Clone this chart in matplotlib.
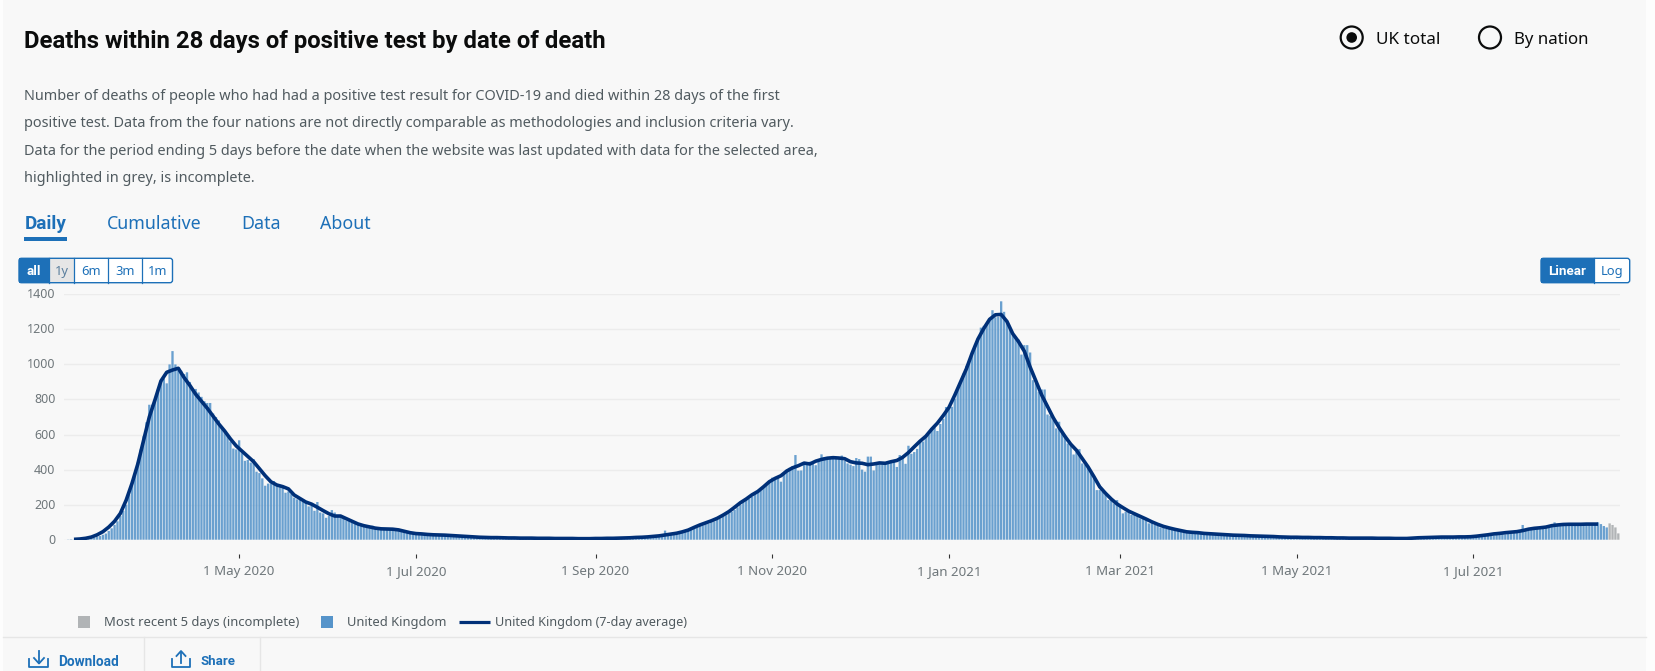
import matplotlib
matplotlib.use("Agg")
import matplotlib.pyplot as plt
from matplotlib.patches import Rectangle, Circle, FancyBboxPatch
from matplotlib.transforms import ScaledTranslation
import pandas as pd

plt.rcParams['font.family'] = ['Noto Sans', 'DejaVu Sans']
BOLD_FONT = ['Roboto', 'DejaVu Sans']

# Daily deaths
mar_2020 = [0, 0, 1, 2, 1, 2, 2, 3, 3, 5,
            8, 12, 18, 21, 28, 35, 50, 65, 85, 105,
            135, 165, 200, 255, 310, 370, 440, 515, 590, 670, 770]
apr_2020 = [770, 800, 860, 907, 920, 892, 1000, 1076, 1000, 965,
            964, 945, 955, 900, 860, 860, 840, 815, 790, 780,
            780, 720, 700, 680, 640, 620, 600, 560, 520, 515]
may_2020 = [567, 494, 450, 455, 440, 460, 388, 380, 350, 308,
            320, 320, 335, 305, 300, 305, 268, 275, 260, 240,
            230, 230, 215, 210, 190, 195, 165, 215, 155, 150, 125]
jun_2020 = [135, 169, 155, 130, 140, 125, 110, 115, 110, 100,
            95, 85, 80, 72, 68, 80, 65, 62, 63, 65,
            60, 58, 62, 60, 62, 55, 50, 42, 45, 40]
jul_2020 = [38, 35, 36, 32, 30, 28, 30, 28, 26, 27,
            25, 24, 22, 23, 20, 18, 17, 16, 15, 14,
            14, 13, 13, 12, 12, 11, 11, 11, 10, 10, 10]
aug_2020 = [10, 10, 9, 9, 10, 9, 9, 8, 8, 8,
            9, 8, 8, 8, 7, 7, 7, 8, 7, 7,
            7, 7, 6, 6, 6, 6, 6, 6, 7, 7, 7]
sep_2020 = [6, 7, 7, 7, 8, 8, 8, 9, 9, 10,
            10, 11, 12, 12, 14, 14, 15, 17, 18, 20,
            22, 24, 27, 30, 52, 32, 34, 36, 38, 40]
oct_2020 = [42, 46, 52, 56, 62, 70, 80, 82, 88, 92,
            100, 105, 115, 122, 132, 140, 150, 160, 170, 185,
            200, 215, 230, 232, 245, 262, 272, 282, 300, 320, 335]
nov_2020 = [354, 350, 358, 331, 375, 398, 410, 420, 483, 394,
            395, 430, 426, 445, 445, 425, 455, 487, 470, 465,
            470, 465, 460, 465, 480, 450, 435, 428, 420, 466]
dec_2020 = [460, 400, 388, 474, 474, 395, 430, 440, 430, 440,
            438, 440, 445, 415, 483, 470, 433, 536, 490, 500,
            518, 565, 560, 585, 600, 635, 640, 620, 660, 690, 757]
jan_2021 = [758, 758, 805, 853, 904, 948, 992, 1024, 1072, 1113,
            1148, 1210, 1220, 1228, 1252, 1309, 1269, 1271, 1360, 1300,
            1243, 1214, 1167, 1157, 1142, 1056, 1110, 1110, 1068, 910, 891]
feb_2021 = [844, 857, 857, 714, 707, 682, 635, 673, 606, 587,
            549, 536, 486, 502, 517, 435, 426, 407, 378, 350,
            283, 283, 274, 255, 226, 226, 207, 226]
mar_2021 = [192, 150, 160, 169, 141, 144, 141, 122, 118, 112,
            93, 103, 84, 78, 70, 74, 61, 70, 59, 60,
            55, 50, 55, 48, 42, 45, 40, 38, 36, 38, 35]
apr_2021 = [34, 32, 30, 28, 30, 29, 27, 28, 26, 25,
            24, 22, 21, 22, 20, 19, 18, 19, 18, 17,
            16, 17, 15, 14, 15, 14, 13, 14, 13, 12]
may_2021 = [12, 13, 12, 11, 13, 12, 11, 12, 10, 11,
            11, 10, 9, 11, 10, 9, 9, 10, 9, 8,
            9, 10, 9, 8, 9, 8, 9, 8, 7, 8, 7]
jun_2021 = [7, 6, 6, 7, 5, 5, 5, 6, 7, 9,
            8, 9, 10, 12, 11, 13, 12, 14, 13, 15,
            14, 16, 13, 17, 15, 14, 18, 16, 17, 18]
jul_2021 = [18, 20, 19, 22, 24, 23, 27, 25, 30, 28,
            32, 31, 38, 35, 42, 40, 44, 84, 56, 51,
            58, 62, 66, 60, 68, 75, 70, 78, 99, 85, 88]
aug_2021 = [85, 88, 90, 86, 92, 88, 84, 92, 90, 86,
            94, 90, 99, 89, 78, 70]
recent_5_days = [93, 84, 70, 36]

months = [('2020-03-01', mar_2020), ('2020-04-01', apr_2020), ('2020-05-01', may_2020),
          ('2020-06-01', jun_2020), ('2020-07-01', jul_2020), ('2020-08-01', aug_2020),
          ('2020-09-01', sep_2020), ('2020-10-01', oct_2020), ('2020-11-01', nov_2020),
          ('2020-12-01', dec_2020), ('2021-01-01', jan_2021), ('2021-02-01', feb_2021),
          ('2021-03-01', mar_2021), ('2021-04-01', apr_2021), ('2021-05-01', may_2021),
          ('2021-06-01', jun_2021), ('2021-07-01', jul_2021), ('2021-08-01', aug_2021)]

# 7-day average, read every 2 days starting 5 Mar 2020, one row per month
avg_values = [2, 4, 8, 15, 28, 46, 72, 105, 150, 225, 320, 430, 565, 700,
              800, 905, 955, 968, 978, 925, 880, 830, 790, 750, 705, 660, 620, 575, 535,
              505, 475, 445, 405, 365, 330, 312, 303, 290, 255, 235, 215, 203, 185, 166,
              148, 135, 135, 120, 105, 90, 80, 73, 66, 62, 61, 60, 56, 48, 40,
              35, 33, 30, 28, 27, 26, 24, 22, 20, 18, 16, 14, 13, 12, 12, 11,
              10, 10, 9, 9, 9, 8, 8, 8, 7, 7, 7, 7, 6, 6, 6,
              7, 7, 8, 8, 9, 10, 11, 13, 14, 16, 19, 22, 27, 32, 37,
              45, 55, 70, 84, 96, 108, 122, 140, 160, 185, 211, 232, 256, 275, 302, 331,
              350, 365, 392, 410, 422, 437, 432, 448, 458, 465, 468, 466, 462, 445, 438,
              436, 428, 432, 438, 436, 445, 452, 470, 497, 530, 562, 590, 630, 665, 708,
              755, 825, 900, 975, 1065, 1145, 1205, 1257, 1283, 1285, 1245, 1175, 1130, 1075, 985, 905,
              825, 760, 695, 640, 590, 545, 510, 462, 415, 360, 302, 265, 232, 204,
              183, 163, 148, 133, 118, 102, 88, 76, 67, 59, 52, 45, 42, 40, 36,
              34, 32, 30, 28, 26, 25, 24, 22, 21, 20, 19, 18, 16, 15, 14,
              14, 13, 13, 12, 12, 11, 11, 10, 10, 9, 9, 9, 9, 9, 8, 8,
              8, 7, 7, 7, 9, 11, 12, 13, 14, 15, 15, 15, 16, 16, 17,
              20, 24, 28, 33, 36, 40, 43, 46, 52, 60, 65, 68, 72, 80, 84,
              87, 88, 88, 88, 89, 89, 89]

y_ticks = [0, 200, 400, 600, 800, 1000, 1200, 1400]
x_tick_dates = ['2020-05-01', '2020-07-01', '2020-09-01', '2020-11-01',
                '2021-01-01', '2021-03-01', '2021-05-01', '2021-07-01']
x_tick_labels = ['1 May 2020', '1 Jul 2020', '1 Sep 2020', '1 Nov 2020',
                 '1 Jan 2021', '1 Mar 2021', '1 May 2021', '1 Jul 2021']

intro_lines = [
    'Number of deaths of people who had had a positive test result for COVID-19 and died within 28 days of the first',
    'positive test. Data from the four nations are not directly comparable as methodologies and inclusion criteria vary.',
    'Data for the period ending 5 days before the date when the website was last updated with data for the selected area,',
    'highlighted in grey, is incomplete.',
]

W, H = 1656, 671
BG = '#f8f8f8'
BLUE = '#1d70b8'
BAR = '#5694ca'
GREY = '#b1b4b6'
NAVY = '#003078'
TEXT = '#505a5f'
AXIS_TEXT = '#6f777b'

fig = plt.figure(figsize=(W / 100, H / 100), dpi=100, facecolor='#fdfdfd')

# Overlay in pixel coordinates for the page furniture around the chart
ui = fig.add_axes([0, 0, 1, 1], zorder=0)
ui.set_xlim(0, W)
ui.set_ylim(H, 0)
ui.axis('off')
ui.add_patch(Rectangle((3, 0), 1643, H, fc=BG, ec='none'))

# Chart axes
left, right, top, bottom = 63.6, 1620, 294.3, 539.7
ax = fig.add_axes([left / W, 1 - bottom / H, (right - left) / W, (bottom - top) / H], zorder=1)
ax.patch.set_alpha(0)

for start, values in months:
    dates = pd.date_range(start, periods=len(values), freq='D')
    bars = ax.bar(dates, values, width=0.8, color=BAR, alpha=0.88, linewidth=0, zorder=2)
    for bar in bars:
        bar.set_snap(False)

recent_dates = pd.date_range('2021-08-17', periods=len(recent_5_days), freq='D')
bars = ax.bar(recent_dates, recent_5_days, width=0.8, color=GREY, linewidth=0, zorder=2)
for bar in bars:
    bar.set_snap(False)

avg_dates = pd.date_range('2020-03-05', periods=len(avg_values), freq='2D')
ax.plot(avg_dates, avg_values, color=NAVY, lw=2.6, solid_joinstyle='round', solid_capstyle='butt', zorder=3)

ax.set_ylim(0, 1400)
ax.set_xlim(pd.Timestamp('2020-03-01 10:00'), pd.Timestamp('2021-08-20 14:00'))
ax.set_yticks(y_ticks)
ax.set_xticks(pd.to_datetime(x_tick_dates))
ax.set_xticklabels(x_tick_labels)
ax.grid(axis='y', color='#ececec', lw=1, zorder=0)
ax.set_axisbelow(True)
for side in ['top', 'right', 'left']:
    ax.spines[side].set_visible(False)
ax.spines['bottom'].set_position(('outward', 10))
ax.spines['bottom'].set_visible(False)
ax.axhline(0, color='#44546a', lw=0.6, zorder=2.5)
ax.tick_params(axis='y', length=0, pad=6, labelsize=9, labelcolor=AXIS_TEXT)
ax.tick_params(axis='x', length=3, width=0.8, color='#333333', pad=5, labelsize=9.6, labelcolor=AXIS_TEXT)
# y labels sit about a pixel higher than matplotlib centres them
nudge = ScaledTranslation(0, 1 / 100, fig.dpi_scale_trans)
for label in ax.get_yticklabels():
    label.set_transform(label.get_transform() + nudge)

# Heading and intro
ui.text(24.5, 41.5, 'Deaths within 28 days of positive test by date of death', fontsize=17.2,
        family=BOLD_FONT, fontweight='bold', color='#0b0c0c', va='center')
for y, line in zip([97, 123.5, 151.5, 179], intro_lines):
    ui.text(24.5, y, line, fontsize=10.4, color=TEXT, va='center')

# Radio buttons
ui.add_patch(Circle((1351.7, 37.5), 11, fc='none', ec='#0b0c0c', lw=1.6))
ui.add_patch(Circle((1351.7, 37.5), 5.3, fc='#0b0c0c', ec='none'))
ui.add_patch(Circle((1490, 37.5), 11, fc='none', ec='#0b0c0c', lw=1.6))
ui.text(1376, 40.5, 'UK total', fontsize=12.3, color='#0b0c0c', va='center')
ui.text(1514, 40.5, 'By nation', fontsize=12.1, color='#0b0c0c', va='center')

# Tabs
ui.text(24.5, 224, 'Daily', fontsize=13.6, color=BLUE, family=BOLD_FONT, fontweight='bold', va='center')
tabs = [(107, 'Cumulative'), (241, 'Data'), (320, 'About')]
for x, label in tabs:
    ui.text(x, 224, label, fontsize=12.8, color=BLUE, va='center')
ui.add_patch(Rectangle((24, 237.3), 43, 3.4, fc=BLUE, ec='none'))


def button_group(edges, labels, fills, colors, bold):
    # cells first, then the rounded outline on top
    x0, x1 = edges[0], edges[-1]
    for i, label in enumerate(labels):
        ui.add_patch(Rectangle((edges[i], 258.3), edges[i + 1] - edges[i], 24.4, fc=fills[i], ec='none'))
        if bold[i]:
            ui.text((edges[i] + edges[i + 1]) / 2, 271.5, label, fontsize=9.6, color=colors[i],
                    family=BOLD_FONT, fontweight='bold', ha='center', va='center')
        else:
            ui.text((edges[i] + edges[i + 1]) / 2, 271.5, label, fontsize=9.3, color=colors[i],
                    ha='center', va='center')
        if i:
            ui.plot([edges[i]] * 2, [258.3, 282.7], color=BLUE, lw=0.9)
    ui.add_patch(FancyBboxPatch((x0, 258.3), x1 - x0, 24.4, boxstyle='round,pad=0,rounding_size=2.5',
                                fc='none', ec=BLUE, lw=1))


button_group([19, 48.9, 74.3, 108, 141.8, 172.5], ['all', '1y', '6m', '3m', '1m'],
             [BLUE, '#e6e6e6', '#ffffff', '#ffffff', '#ffffff'],
             ['white', '#5b7f9e', BLUE, BLUE, BLUE], [True, False, False, False, False])
button_group([1541, 1593.7, 1629.7], ['Linear', 'Log'], [BLUE, '#ffffff'], ['white', BLUE], [True, False])

# Legend
ui.add_patch(Rectangle((78, 616), 12, 11.7, fc=GREY, ec='none'))
ui.text(104, 622.5, 'Most recent 5 days (incomplete)', fontsize=9.35, color=TEXT, va='center')
ui.add_patch(Rectangle((321, 616), 12, 11.7, fc=BAR, ec='none'))
ui.text(347.5, 622.5, 'United Kingdom', fontsize=9.3, color=TEXT, va='center')
ui.plot([459.5, 489.6], [622, 622], color=NAVY, lw=2.3, solid_capstyle='butt')
ui.text(495.4, 622.5, 'United Kingdom (7-day average)', fontsize=9.1, color=TEXT, va='center')

# Footer bar with Download / Share
ui.plot([3, 1646], [637, 637], color='#e6e6e6', lw=1)
ui.plot([144.4, 144.4], [637, H], color='#e6e6e6', lw=1)
ui.plot([260, 260], [637, H], color='#e6e6e6', lw=1)
ui.plot([29.5, 29.5, 48.5, 48.5], [659, 667, 667, 659], color=BLUE, lw=1.3)
ui.plot([39, 39], [651, 663], color=BLUE, lw=1.3)
ui.plot([34, 39, 44], [658, 663.5, 658], color=BLUE, lw=1.3)
ui.plot([172.5, 172.5, 190, 190], [659, 667, 667, 659], color=BLUE, lw=1.3)
ui.plot([181, 181], [652, 663], color=BLUE, lw=1.3)
ui.plot([176.5, 181, 185.5], [656, 651, 656], color=BLUE, lw=1.3)
ui.text(58.6, 661.7, 'Download', fontsize=9.8, color=BLUE, family=BOLD_FONT, fontweight='bold', va='center')
ui.text(200.7, 661.7, 'Share', fontsize=9.5, color=BLUE, family=BOLD_FONT, fontweight='bold', va='center')

fig.savefig('out.png', dpi=100, facecolor=fig.get_facecolor())
